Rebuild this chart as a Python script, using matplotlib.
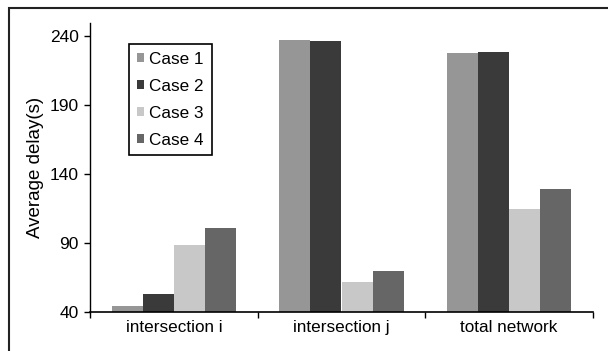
import matplotlib
matplotlib.use("Agg")
import matplotlib.pyplot as plt
import numpy as np
from matplotlib.patches import Rectangle

categories = ["intersection i", "intersection j", "total network"]
series_names = ["Case 1", "Case 2", "Case 3", "Case 4"]
case1 = [44.3, 237.8, 227.7]
case2 = [53.0, 236.4, 228.4]
case3 = [88.5, 61.7, 114.6]
case4 = [101.0, 69.7, 129.1]
colors = ["#969696", "#3a3a3a", "#c8c8c8", "#666666"]
yticks = [40, 90, 140, 190, 240]

plt.rcParams['font.family'] = ['Liberation Sans', 'DejaVu Sans']
fig = plt.figure(figsize=(6.08, 3.51), dpi=100)
ax = fig.add_axes([90/608, 1-312/351, (593-90)/608, (312-22.7)/351])

x = np.arange(len(categories))
w = 0.185
for i, (vals, name, c) in enumerate(zip([case1, case2, case3, case4], series_names, colors)):
    ax.bar(x + (i - 1.5) * w, np.array(vals) - 40, width=w, bottom=40, color=c, label=name, linewidth=0)

ax.set_xlim(-0.5, 2.5)
ax.set_ylim(40, 250)
ax.set_yticks(yticks)
ax.tick_params(axis='y', labelsize=12.5, length=4, width=1, direction='out', pad=4)
ax.set_xticks([-0.5, 0.5, 1.5, 2.5])
ax.set_xticklabels([])
ax.set_xticks(x, minor=True)
ax.set_xticklabels(categories, minor=True)
ax.tick_params(axis='x', which='major', length=4, width=1, direction='out')
ax.tick_params(axis='x', which='minor', length=0, labelsize=12.3, pad=6)
ax.spines['top'].set_visible(False)
ax.spines['right'].set_visible(False)
ax.spines['left'].set_linewidth(1)
ax.spines['bottom'].set_linewidth(1.2)
ax.set_ylabel("Average delay(s)", fontsize=13.5, labelpad=4.5)

leg = ax.legend(loc='upper left', bbox_to_anchor=(0.078, 0.926), fontsize=12.3,
                handlelength=0.43, handleheight=0.43, handletextpad=0.3,
                labelspacing=0.7, borderpad=0.45, fancybox=False, framealpha=1,
                edgecolor='black', borderaxespad=0)
leg.get_frame().set_linewidth(1.2)

fig.patches.append(Rectangle((8.5/608, -0.05), 1.1, 1 - 7.5/351 + 0.05, transform=fig.transFigure,
                             fill=False, edgecolor='#222222', linewidth=1.5, figure=fig))

fig.savefig("out.png", dpi=100)
